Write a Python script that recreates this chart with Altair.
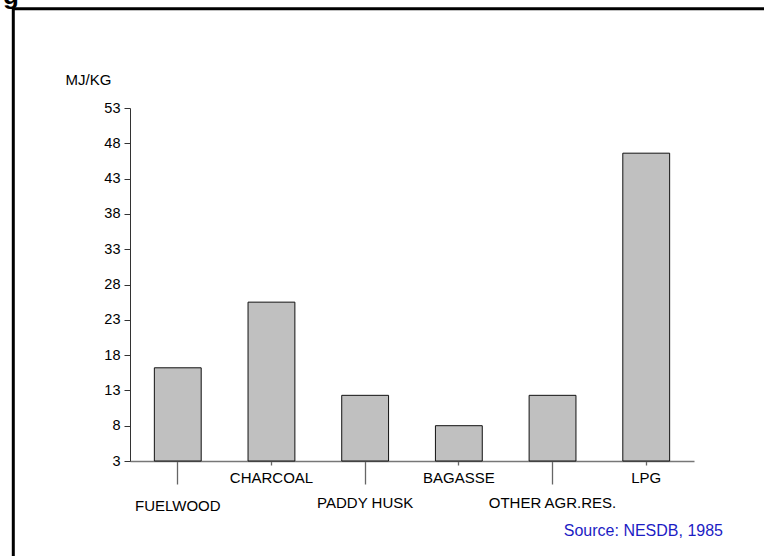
import altair as alt
import pandas as pd

# ---- data ----
fuels = ["FUELWOOD", "CHARCOAL", "PADDY HUSK", "BAGASSE", "OTHER AGR.RES.", "LPG"]
mj_per_kg = [16.2, 25.5, 12.3, 8.0, 12.3, 46.6]
y_ticks = [3, 8, 13, 18, 23, 28, 33, 38, 43, 48, 53]
lower_row = ["FUELWOOD", "PADDY HUSK", "OTHER AGR.RES."]
y_title = "MJ/KG"
source_note = ["Source: NESDB, 1985"]
heading_fragment = ["g"]

df = pd.DataFrame({"fuel": fuels, "value": mj_per_kg})
lower_test = "indexof([" + ",".join("'" + s + "'" for s in lower_row) + "], datum.value) >= 0"
first_test = "datum.value == '" + lower_row[0] + "'"

FONT = "Liberation Sans"

bars = alt.Chart(df).mark_bar(
    fill="#c0c0c0", stroke="#111111", strokeWidth=1
).encode(
    x=alt.X(
        "fuel:N",
        sort=fuels,
        scale=alt.Scale(paddingInner=0.5, paddingOuter=0.26),
        axis=alt.Axis(
            title=None,
            labelAngle=0,
            labelFont=FONT,
            labelFontSize=15,
            labelColor="#000000",
            labelBaseline="top",
            labelOverlap=False,
            labelLimit=0,
            tickSize={"condition": {"test": lower_test, "value": 23}, "value": 4},
            labelPadding={
                "condition": [
                    {"test": first_test, "value": 14},
                    {"test": lower_test, "value": 11},
                ],
                "value": 5,
            },
            tickColor="#666666",
            tickWidth=1.3,
            domainColor="#777777",
            domainWidth=1.6,
        ),
    ),
    y=alt.Y(
        "value:Q",
        scale=alt.Scale(domain=[3, 53], nice=False, zero=False),
        axis=alt.Axis(
            values=y_ticks,
            title=y_title,
            titleAngle=0,
            titleX=-65,
            titleY=-29,
            titleAlign="left",
            titleBaseline="middle",
            titleFont=FONT,
            titleFontSize=15,
            titleFontWeight="normal",
            titleColor="#000000",
            labelFont=FONT,
            labelFontSize=14.5,
            labelColor="#000000",
            labelPadding=4,
            tickSize=6,
            tickColor="#333333",
            domainColor="#333333",
            grid=False,
        ),
    ),
    y2=alt.datum(3),
)

frame = alt.Chart(pd.DataFrame({"f": [0]})).mark_rect(
    filled=False, stroke="#000000", strokeWidth=3
).encode(
    x=alt.value(-116.7), x2=alt.value(700), y=alt.value(-99.3), y2=alt.value(500)
)

source = alt.Chart(pd.DataFrame({"note": source_note})).mark_text(
    align="right", baseline="alphabetic", font=FONT, fontSize=16, color="#1c1cc4"
).encode(x=alt.value(593), y=alt.value(427.5), text="note:N")

heading = alt.Chart(pd.DataFrame({"h": heading_fragment})).mark_text(
    align="left", baseline="alphabetic", font=FONT, fontSize=26, fontWeight="bold", color="#000000"
).encode(x=alt.value(-127), y=alt.value(-104), text="h:N")

chart = alt.layer(frame, bars, source, heading).properties(
    width=564,
    height=353,
    padding={"left": 130, "top": 108, "right": 70, "bottom": 95},
    autosize=alt.AutoSizeParams(type="none"),
).configure(
    background="white",
    view=alt.ViewConfig(stroke="transparent", strokeWidth=0),
)

chart.save("out.html", embed_options={"renderer": "svg", "actions": False})
